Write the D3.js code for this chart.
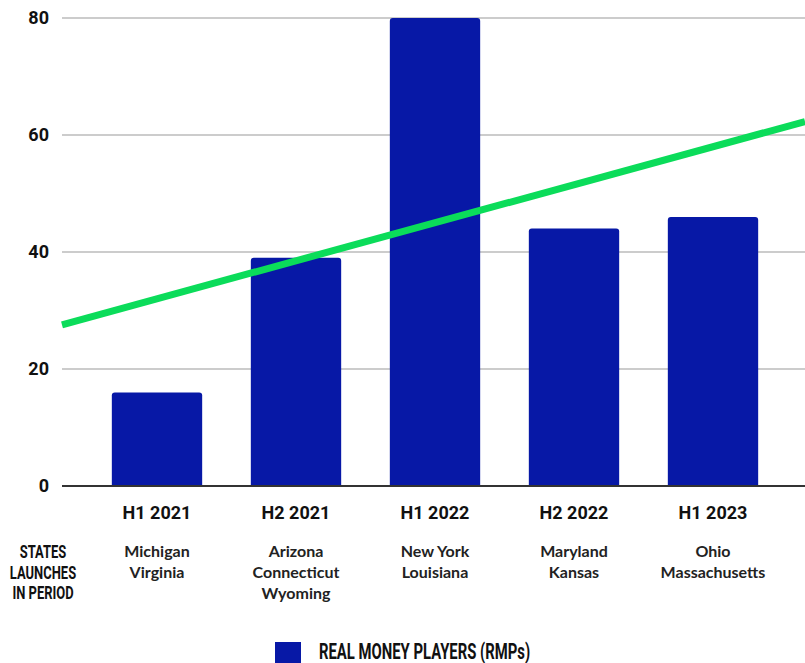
<!DOCTYPE html>
<html>
<head>
<meta charset="utf-8">
<script src="https://cdn.jsdelivr.net/npm/d3@7"></script>
<style>
  html, body { margin: 0; padding: 0; background: #fff; }
  svg { display: block; }
</style>
</head>
<body>
<svg id="chart" width="805" height="663"></svg>
<script>
// Half-year periods and real money players per period
const periods = ["H1 2021", "H2 2021", "H1 2022", "H2 2022", "H1 2023"];
const rmpValues = [16, 39, 80, 44, 46];
const stateLaunches = [
  ["Michigan", "Virginia"],
  ["Arizona", "Connecticut", "Wyoming"],
  ["New York", "Louisiana"],
  ["Maryland", "Kansas"],
  ["Ohio", "Massachusetts"]
];
const yTicks = [0, 20, 40, 60, 80];
const sideLabel = ["STATES", "LAUNCHES", "IN PERIOD"];
const legendLabel = "REAL MONEY PLAYERS (RMPs)";

const svg = d3.select("#chart");
const plotLeft = 62, plotRight = 805;
const bandLeft = 87.5, bandRight = 782.5;
const y0 = 486, yTop = 18;

const x = d3.scaleBand().domain(periods).range([bandLeft, bandRight]).paddingInner(0.35).paddingOuter(0.175);
const y = d3.scaleLinear().domain([0, 80]).range([y0, yTop]);

const barColor = "#0718a6";

// Squeeze a text horizontally so it reads like a condensed face
function condense(sel, factor) {
  sel.each(function () {
    const w = this.getComputedTextLength();
    d3.select(this).attr("textLength", w * factor).attr("lengthAdjust", "spacingAndGlyphs");
  });
}

// Gridlines
svg.append("g").selectAll("line").data(yTicks.filter(d => d > 0)).join("line")
  .attr("x1", plotLeft).attr("x2", plotRight)
  .attr("y1", d => y(d)).attr("y2", d => y(d))
  .attr("stroke", "#cccccc").attr("stroke-width", 2);

// Y tick labels
svg.append("g").selectAll("text").data(yTicks).join("text")
  .attr("x", 49).attr("y", d => y(d)).attr("dy", "0.36em")
  .attr("text-anchor", "end")
  .style("font-family", "Roboto, sans-serif").style("font-weight", 700).style("font-size", "18px")
  .attr("fill", "#111").text(d => d);

// Bars with rounded top corners
const r = 3;
function barPath(x0, w, yt, yb) {
  return `M${x0},${yb}V${yt + r}Q${x0},${yt} ${x0 + r},${yt}H${x0 + w - r}Q${x0 + w},${yt} ${x0 + w},${yt + r}V${yb}Z`;
}
svg.append("g").selectAll("path").data(periods).join("path")
  .attr("d", (p, i) => barPath(x(p), x.bandwidth(), y(rmpValues[i]), y(0)))
  .attr("fill", barColor);

// Baseline
svg.append("line").attr("x1", plotLeft).attr("x2", plotRight)
  .attr("y1", y0).attr("y2", y0).attr("stroke", "#333").attr("stroke-width", 2);

// Linear trend through the bar values
const n = rmpValues.length;
const mx = d3.mean(d3.range(n)), my = d3.mean(rmpValues);
const slope = d3.sum(d3.range(n), i => (i - mx) * (rmpValues[i] - my)) / d3.sum(d3.range(n), i => (i - mx) ** 2);
const step = x.step();
const idxAt = px => (px - (x(periods[0]) + x.bandwidth() / 2)) / step;
const trendAt = px => my + slope * (idxAt(px) - mx);
svg.append("line")
  .attr("x1", plotLeft).attr("y1", y(trendAt(plotLeft)))
  .attr("x2", plotRight).attr("y2", y(trendAt(plotRight)))
  .attr("stroke", "#0bdc5a").attr("stroke-width", 7);

// Category labels
svg.append("g").selectAll("text").data(periods).join("text")
  .attr("x", p => x(p) + x.bandwidth() / 2).attr("y", 513).attr("dy", "0.36em")
  .attr("text-anchor", "middle")
  .style("font-family", "Roboto, sans-serif").style("font-weight", 700).style("font-size", "18px")
  .attr("fill", "#111").text(p => p);

// State launches under each period
const states = svg.append("g");
periods.forEach((p, i) => {
  stateLaunches[i].forEach((s, j) => {
    states.append("text")
      .attr("x", x(p) + x.bandwidth() / 2).attr("y", 551 + j * 21).attr("dy", "0.36em")
      .attr("text-anchor", "middle")
      .style("font-family", "Lato, sans-serif").style("font-weight", 700).style("font-size", "16px")
      .attr("fill", "#222").text(s);
  });
});

// Row heading
svg.append("g").selectAll("text").data(sideLabel).join("text")
  .attr("x", 43).attr("y", (d, i) => 558 + i * 20.5)
  .attr("text-anchor", "middle")
  .style("font-family", "Roboto, sans-serif").style("font-weight", 700).style("font-size", "18.5px")
  .attr("fill", "#111").text(d => d)
  .call(condense, 0.7);

// Legend
svg.append("rect").attr("x", 275).attr("y", 642).attr("width", 26).attr("height", 22).attr("fill", barColor);
svg.append("text").attr("x", 319).attr("y", 659)
  .style("font-family", "Roboto, sans-serif").style("font-weight", 700).style("font-size", "21.5px")
  .attr("fill", "#111").text(legendLabel)
  .call(condense, 0.69);
</script>
</body>
</html>
